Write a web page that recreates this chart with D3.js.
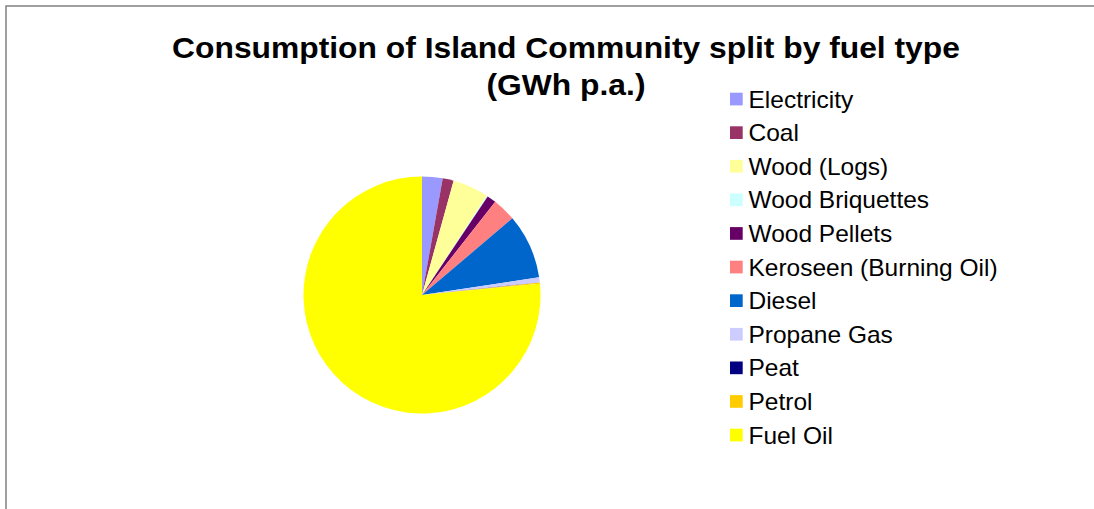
<!DOCTYPE html>
<html>
<head>
<meta charset="utf-8">
<script src="https://cdn.jsdelivr.net/npm/d3@7"></script>
<style>
  html, body { margin: 0; padding: 0; background: #fff; }
  svg { display: block; font-family: "Liberation Sans", Arial, sans-serif; }
</style>
</head>
<body>
<svg id="chart" width="1094" height="509"></svg>
<script>
// Annual consumption per fuel (GWh p.a.)
const fuels = ["Electricity", "Coal", "Wood (Logs)", "Wood Briquettes", "Wood Pellets",
  "Keroseen (Burning Oil)", "Diesel", "Propane Gas", "Peat", "Petrol", "Fuel Oil"];
const consumption = [2.8, 1.5, 4.9, 0.15, 1.25, 3.2, 8.8, 0.7, 0.02, 0.15, 76.5];
const fuelColors = ["#9999FF", "#993366", "#FFFF99", "#CCFFFF", "#660066",
  "#FF8080", "#0066CC", "#CCCCFF", "#000080", "#FFCC00", "#FFFF00"];
const titleLines = ["Consumption of Island Community split by fuel type", "(GWh p.a.)"];

const svg = d3.select("#chart");

// chart area frame (only top and left edges fall inside the view)
svg.append("rect")
  .attr("x", 6).attr("y", 6).attr("width", 1100).attr("height", 520)
  .attr("fill", "none").attr("stroke", "#808080").attr("stroke-width", 1.5);

// title (slightly widened type)
svg.append("g").selectAll("text").data(titleLines).join("text")
  .attr("transform", (d, i) => `translate(566,${57.5 + i * 37.5}) scale(1.06,1)`)
  .attr("text-anchor", "middle")
  .attr("font-size", 30).attr("font-weight", "bold").attr("fill", "#000")
  .text(d => d);

// pie
const color = d3.scaleOrdinal().domain(fuels).range(fuelColors);
const pie = d3.pie().sort(null).value(d => d.value);
const arc = d3.arc().innerRadius(0).outerRadius(118.5);
const data = fuels.map((f, i) => ({ name: f, value: consumption[i] }));

svg.append("g").attr("transform", "translate(422,295)")
  .selectAll("path").data(pie(data)).join("path")
  .attr("d", arc)
  .attr("fill", d => color(d.data.name));

// legend
const legend = svg.append("g").attr("transform", "translate(730,99)");
const row = legend.selectAll("g").data(fuels).join("g")
  .attr("transform", (d, i) => `translate(0,${i * 33.6})`);
row.append("rect")
  .attr("x", 0).attr("y", -6.3).attr("width", 12.7).attr("height", 12.7)
  .attr("fill", d => color(d));
row.append("text")
  .attr("transform", "translate(18.5,8.6) scale(1.065,1)")
  .attr("font-size", 23).attr("fill", "#000")
  .text(d => d);
</script>
</body>
</html>
